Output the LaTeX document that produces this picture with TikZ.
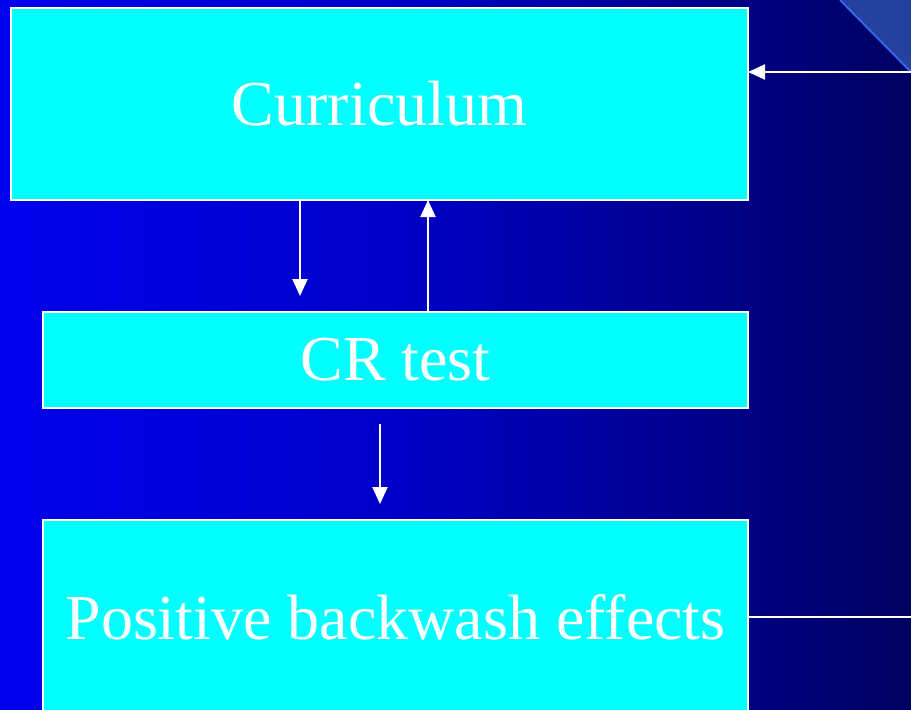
\documentclass[tikz,border=0pt]{standalone}
\usepackage{fontspec}
\setmainfont{Liberation Serif}
\usetikzlibrary{arrows.meta}
\pgfdeclarehorizontalshading{bgshade}{100bp}{rgb(0bp)=(0,0,0.93); rgb(25bp)=(0,0,0.93); rgb(47bp)=(0,0,0.78); rgb(75bp)=(0,0,0.38); rgb(100bp)=(0,0,0.38)}
\definecolor{boxcyan}{RGB}{0,255,255}
\definecolor{trifill}{RGB}{38,64,160}
\definecolor{triedge}{RGB}{51,102,238}
\tikzset{
  box/.style={draw=white, line width=2pt, fill=boxcyan, inner sep=0pt, outer sep=0pt,
    text=white, font=\fontsize{64}{70}\selectfont, anchor=center},
  arr/.style={draw=white, line width=2pt, -{Triangle[width=15pt,length=17pt]}},
  plain/.style={draw=white, line width=2pt}
}
\begin{document}
\begin{tikzpicture}[x=1pt,y=-1pt]
\useasboundingbox (0,0) rectangle (911,710);
\shade[shading=bgshade] (0,0) rectangle (911,710);
\begin{scope}
\clip (0,0) rectangle (911,710);
\fill[trifill] (840,0) -- (911,72) -- (911,0) -- cycle;
\draw[triedge, line width=2pt] (840,0) -- (911,72);
\node[box, minimum width=737pt, minimum height=192pt] (cur) at (379.5,104) {Curriculum};
\node[box, minimum width=705pt, minimum height=96pt] (cr) at (395.5,360) {CR test};
\node[box, minimum width=705pt, minimum height=194pt] (pos) at (395.5,617) {Positive backwash effects};
\coordinate (a1) at (300,296);
\coordinate (a2) at (428,0);
\coordinate (a3s) at (380,424);
\coordinate (a3e) at (380,504);
\coordinate (rt) at (911,72);
\coordinate (rb) at (911,617);
\draw[arr] (cur.south -| a1) -- (a1);
\draw[arr] (cr.north -| a2) -- (cur.south -| a2);
\draw[arr] (a3s) -- (a3e);
\draw[arr] (rt) -- (cur.east |- rt);
\draw[plain] (pos.east) -- (rb);
\end{scope}
\end{tikzpicture}
\end{document}
